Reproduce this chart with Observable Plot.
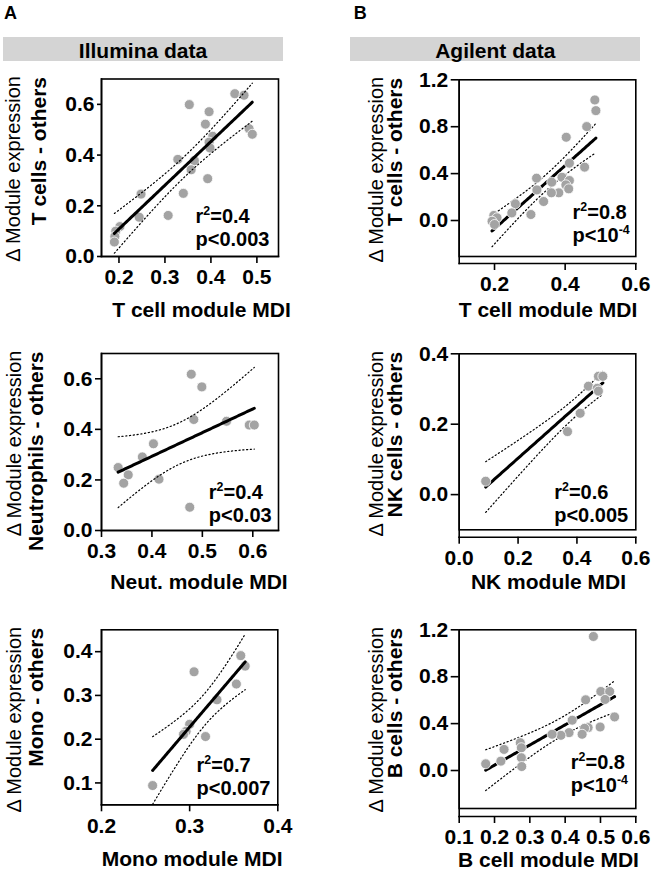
<!DOCTYPE html>
<html><head><meta charset="utf-8">
<script src="https://cdn.jsdelivr.net/npm/d3@7"></script>
<script src="https://cdn.jsdelivr.net/npm/@observablehq/plot@0.6"></script>
<style>
body{margin:0;background:#fff;}
#root{position:relative;width:652px;height:869px;font-family:"Liberation Sans",Arial,sans-serif;color:#000;}
.panel{position:absolute;}
.tag{position:absolute;font-weight:bold;font-size:18px;line-height:18px;}
.banner{position:absolute;background:#d4d4d4;height:24px;font-weight:bold;font-size:21px;line-height:24px;text-align:center;}
.banner span{position:relative;top:2px;}
</style></head><body><div id="root"></div>
<script>
// ---------- data ----------
const panelTags = ["A", "B"];
const bannerTitles = ["Illumina data", "Agilent data"];
const yLabelTop = "\u0394 Module expression";

// Illumina: T cells
const illTcellX = [0.452,0.472,0.353,0.396,0.388,0.483,0.490,0.404,0.396,0.398,0.328,0.364,0.357,0.393,0.340,0.248,0.244,0.307,0.202,0.193,0.191,0.190];
const illTcellY = [0.642,0.636,0.599,0.571,0.522,0.504,0.482,0.474,0.451,0.428,0.383,0.378,0.342,0.307,0.249,0.246,0.155,0.162,0.118,0.100,0.079,0.057];
// Illumina: Neutrophils
const illNeutX = [0.478,0.499,0.483,0.548,0.593,0.603,0.403,0.381,0.333,0.353,0.344,0.414,0.475];
const illNeutY = [0.618,0.568,0.439,0.432,0.417,0.417,0.343,0.291,0.249,0.220,0.187,0.203,0.092];
// Illumina: Monocytes
const illMonoX = [0.358,0.363,0.305,0.353,0.331,0.300,0.296,0.293,0.318,0.258];
const illMonoY = [0.391,0.367,0.354,0.326,0.290,0.234,0.218,0.211,0.206,0.094];
// Agilent: T cells
const agTcellX = [0.484,0.487,0.461,0.403,0.412,0.455,0.319,0.362,0.391,0.412,0.402,0.410,0.382,0.361,0.320,0.339,0.259,0.249,0.303,0.198,0.207,0.193,0.200];
const agTcellY = [1.028,0.937,0.801,0.710,0.489,0.455,0.361,0.327,0.369,0.341,0.304,0.270,0.236,0.236,0.261,0.162,0.142,0.065,0.051,0.043,0.023,-0.006,-0.034];
// Agilent: NK cells
const agNKX = [0.473,0.488,0.439,0.469,0.473,0.411,0.368,0.090];
const agNKY = [0.336,0.336,0.308,0.302,0.294,0.231,0.179,0.038];
// Agilent: B cells
const agBcellX = [0.480,0.501,0.526,0.513,0.458,0.540,0.420,0.499,0.465,0.455,0.448,0.411,0.388,0.363,0.273,0.276,0.227,0.276,0.218,0.175,0.277];
const agBcellY = [1.143,0.674,0.674,0.606,0.603,0.457,0.429,0.371,0.366,0.360,0.309,0.323,0.300,0.309,0.237,0.194,0.180,0.109,0.080,0.057,0.034];

// tick values
const ticksIllTcellX = [0.2,0.3,0.4,0.5], ticksIllTcellY = [0,0.2,0.4,0.6];
const ticksIllNeutX = [0.3,0.4,0.5,0.6], ticksIllNeutY = [0,0.2,0.4,0.6];
const ticksIllMonoX = [0.2,0.3,0.4], ticksIllMonoY = [0.1,0.2,0.3,0.4];
const ticksAgTcellX = [0.2,0.4,0.6], ticksAgTcellY = [0,0.4,0.8,1.2];
const ticksAgNKX = [0,0.2,0.4,0.6], ticksAgNKY = [0,0.2,0.4];
const ticksAgBcellX = [0.1,0.2,0.3,0.4,0.5,0.6], ticksAgBcellY = [0,0.4,0.8,1.2];

// labels
const yLabels = ["T cells - others","Neutrophils - others","Mono - others","T cells - others","NK cells - others","B cells - others"];
const xLabels = ["T cell module MDI","Neut. module MDI","Mono module MDI","T cell module MDI","NK module MDI","B cell module MDI"];
const statR2 = ["r\u00B2=0.4","r\u00B2=0.4","r\u00B2=0.7","r\u00B2=0.8","r\u00B2=0.6","r\u00B2=0.8"];
const statP = ["p<0.003","p<0.03","p<0.007","p<10\u207B\u2074","p<0.005","p<10\u207B\u2074"];

// ---------- stats helpers ----------
function lgamma(x){
  const c=[0.99999999999980993,676.5203681218851,-1259.1392167224028,771.32342877765313,-176.61502916214059,12.507343278686905,-0.13857109526572012,9.9843695780195716e-6,1.5056327351493116e-7];
  if (x<0.5) return Math.log(Math.PI/Math.sin(Math.PI*x)) - lgamma(1-x);
  x -= 1; let a=c[0]; const t=x+7.5;
  for (let i=1;i<9;i++) a += c[i]/(x+i);
  return 0.5*Math.log(2*Math.PI) + (x+0.5)*Math.log(t) - t + Math.log(a);
}
function tpdf(x,v){ return Math.exp(lgamma((v+1)/2)-lgamma(v/2)-0.5*Math.log(v*Math.PI)-(v+1)/2*Math.log(1+x*x/v)); }
function tcdf(x,v){ const N=400,h=x/N; let s=tpdf(0,v)+tpdf(x,v); for(let i=1;i<N;i++) s+=(i%2?4:2)*tpdf(i*h,v); return 0.5+s*h/3; }
function tq(p,v){ let lo=0,hi=30; for(let k=0;k<50;k++){const m=(lo+hi)/2; if(tcdf(m,v)<p) lo=m; else hi=m;} return (lo+hi)/2; }
function regression(xs, ys){
  const n=xs.length, mx=d3.mean(xs), my=d3.mean(ys);
  let sxx=0,sxy=0,syy=0;
  for(let i=0;i<n;i++){const dx=xs[i]-mx,dy=ys[i]-my; sxx+=dx*dx; sxy+=dx*dy; syy+=dy*dy;}
  const b=sxy/sxx, a=my-b*mx, s=Math.sqrt((syy-b*sxy)/(n-2)), t=tq(0.975,n-2);
  const [x0,x1]=d3.extent(xs);
  return d3.range(81).map(i=>{const x=x0+(x1-x0)*i/80, f=a+b*x, h=t*s*Math.sqrt(1/n+(x-mx)*(x-mx)/sxx); return {x,fit:f,lo:f-h,hi:f+h};});
}

// ---------- layout ----------
const W = 326;
const rowTop = [0,290,580], rowH = [290,290,289];
const panels = [
  {col:0,row:0,x:illTcellX,y:illTcellY,xd:[0.162,0.547],yd:[0,0.7],xt:ticksIllTcellX,yt:ticksIllTcellY,
   f:{l:101,r:278,t:78.5,b:256,axis:256},ylx:[13,38.5],xlx:201,xly:316.5,sx:195,sy:222.5,linesOnTop:true,yts:4},
  {col:0,row:1,x:illNeutX,y:illNeutY,xd:[0.3,0.651],yd:[0,0.7],xt:ticksIllNeutX,yt:ticksIllNeutY,
   f:{l:101,r:278,t:353,b:530,axis:530},ylx:[14,36],xlx:198.5,xly:588,sx:208.3,sy:498.5,linesOnTop:true,yts:6},
  {col:0,row:2,x:illMonoX,y:illMonoY,xd:[0.2,0.4],yd:[0.05,0.45],xt:ticksIllMonoX,yt:ticksIllMonoY,
   f:{l:101,r:277.3,t:629.3,b:804.3,axis:804.3},ylx:[14,36],xlx:191.7,xly:865,sx:196,sy:771.8,linesOnTop:true,yts:6},
  {col:1,row:0,x:agTcellX,y:agTcellY,xd:[0.1,0.6],yd:[-0.307,1.2],xt:ticksAgTcellX,yt:ticksAgTcellY,
   f:{l:458.7,r:635.3,t:79.3,b:256,axis:263},ylx:[376,395],xlx:547.5,xly:316.5,sx:572,sy:218.5,linesOnTop:false,yts:8},
  {col:1,row:1,x:agNKX,y:agNKY,xd:[0,0.6],yd:[-0.1,0.4],xt:ticksAgNKX,yt:ticksAgNKY,
   f:{l:458.7,r:635.3,t:353.3,b:529.3,axis:536.7},ylx:[376,395],xlx:548,xly:588,sx:553.7,sy:498.5,linesOnTop:false,yts:8},
  {col:1,row:2,x:agBcellX,y:agBcellY,xd:[0.1,0.6],yd:[-0.324,1.2],xt:ticksAgBcellX,yt:ticksAgBcellY,
   f:{l:458.7,r:635.3,t:629.3,b:808,axis:816},ylx:[376,395],xlx:548,xly:866,sx:570.3,sy:768.5,linesOnTop:false,yts:8}
];

const root = document.getElementById("root");
const fmt = d3.format(".1f");
const SW = 1.6;
const statGap = 23, statFont = 20;
const NS = "http://www.w3.org/2000/svg";
const supMap = {"\u00B2":"2","\u207B":"-","\u2074":"4"};

// render unicode superscripts as raised tspans (text stays text)
function supify(t){
  const m = t.textContent.match(/^(.*?)([\u00B2\u207B\u2074]+)(.*)$/);
  if (!m) return;
  const raise = 0.4*statFont;
  t.textContent = "";
  const a = document.createElementNS(NS,"tspan"); a.textContent = m[1]; t.appendChild(a);
  const b = document.createElementNS(NS,"tspan"); b.textContent = [...m[2]].map(c=>supMap[c]).join("");
  b.setAttribute("font-size", (0.62*statFont)+"px"); b.setAttribute("dy", -raise); t.appendChild(b);
  if (m[3]) { const c = document.createElementNS(NS,"tspan"); c.textContent = m[3]; c.setAttribute("dy", raise); t.appendChild(c); }
}

panels.forEach((p, i) => {
  const cx = p.col*W, ry = rowTop[p.row], H = rowH[p.row], f = p.f;
  const pts = p.x.map((x,k)=>({x, y:p.y[k]}));
  const reg = regression(p.x, p.y);
  const clip = p.linesOnTop;
  const lines = [
    Plot.line(reg,{x:"x",y:"lo",stroke:"black",strokeWidth:1.2,strokeDasharray:"1.2,2.6",clip}),
    Plot.line(reg,{x:"x",y:"hi",stroke:"black",strokeWidth:1.2,strokeDasharray:"1.2,2.6",clip}),
    Plot.line(reg,{x:"x",y:"fit",stroke:"black",strokeWidth:3,clip})
  ];
  const dots = Plot.dot(pts,{x:"x",y:"y",r:5,fill:"#a3a3a3",stroke:"white",strokeWidth:0.8});
  const chart = Plot.plot({
    width: W, height: H,
    marginLeft: f.l-cx, marginRight: cx+W-f.r, marginTop: f.t-ry, marginBottom: ry+H-f.axis,
    style:{fontFamily:"Liberation Sans, Arial, sans-serif", fontSize:"21px", fontWeight:"bold", color:"black", background:"transparent", overflow:"visible"},
    x:{domain:p.xd, label:null},
    y:{domain:p.yd, range:[f.b-ry, f.t-ry], label:null},
    marks:[
      ...(p.linesOnTop ? [dots, ...lines] : [...lines, dots]),
      Plot.frame({insetBottom:f.axis-f.b, stroke:"black", strokeWidth:SW}),
      Plot.frame({anchor:"left", stroke:"black", strokeWidth:SW}),
      Plot.frame({anchor:"bottom", stroke:"black", strokeWidth:SW}),
      Plot.axisY({ticks:p.yt, tickFormat:fmt, tickSize:p.yts, tickPadding:3, strokeWidth:SW, label:null, fill:"black"}),
      Plot.axisX({ticks:p.xt, tickFormat:fmt, tickSize:7, tickPadding:6, strokeWidth:SW, label:null, fill:"black"}),
      Plot.text([yLabelTop],{text:d=>d, frameAnchor:"top-left", rotate:-90, textAnchor:"end", lineAnchor:"middle", dx:p.ylx[0]-f.l, dy:-3, fontWeight:"normal", fontSize:20, fill:"black"}),
      Plot.text([yLabels[i]],{text:d=>d, frameAnchor:"top-left", rotate:-90, textAnchor:"end", lineAnchor:"middle", dx:p.ylx[1]-f.l, dy:-2, fontWeight:"bold", fontSize:21, fill:"black"}),
      Plot.text([xLabels[i]],{text:d=>d, frameAnchor:"bottom", textAnchor:"middle", lineAnchor:"bottom", dx:p.xlx-(f.l+f.r)/2, dy:p.xly-f.axis, fontSize:21, fill:"black"}),
      Plot.text([statR2[i]],{text:d=>d, frameAnchor:"bottom-right", textAnchor:"start", lineAnchor:"bottom", dx:p.sx-f.r, dy:p.sy-f.axis, fontSize:statFont, fill:"black"}),
      Plot.text([statP[i]],{text:d=>d, frameAnchor:"bottom-right", textAnchor:"start", lineAnchor:"bottom", dx:p.sx-f.r, dy:p.sy+statGap-f.axis, fontSize:statFont, fill:"black"})
    ]
  });
  chart.querySelectorAll("text").forEach(supify);
  chart.classList.add("panel");
  chart.style.left = cx+"px";
  chart.style.top = ry+"px";
  chart.style.position = "absolute";
  root.appendChild(chart);
});

// tags and banners
const tagPos = [[4,4],[353.7,4]];
panelTags.forEach((t,k)=>{const d=document.createElement("div"); d.className="tag"; d.textContent=t; d.style.left=tagPos[k][0]+"px"; d.style.top=tagPos[k][1]+"px"; root.appendChild(d);});
const bannerPos = [[3.3,282.7],[350.3,640.3]];
bannerTitles.forEach((t,k)=>{const d=document.createElement("div"); d.className="banner"; d.style.left=bannerPos[k][0]+"px"; d.style.width=(bannerPos[k][1]-bannerPos[k][0])+"px"; d.style.top="36.7px"; const s=document.createElement("span"); s.textContent=t; d.appendChild(s); root.appendChild(d);});
</script></body></html>
